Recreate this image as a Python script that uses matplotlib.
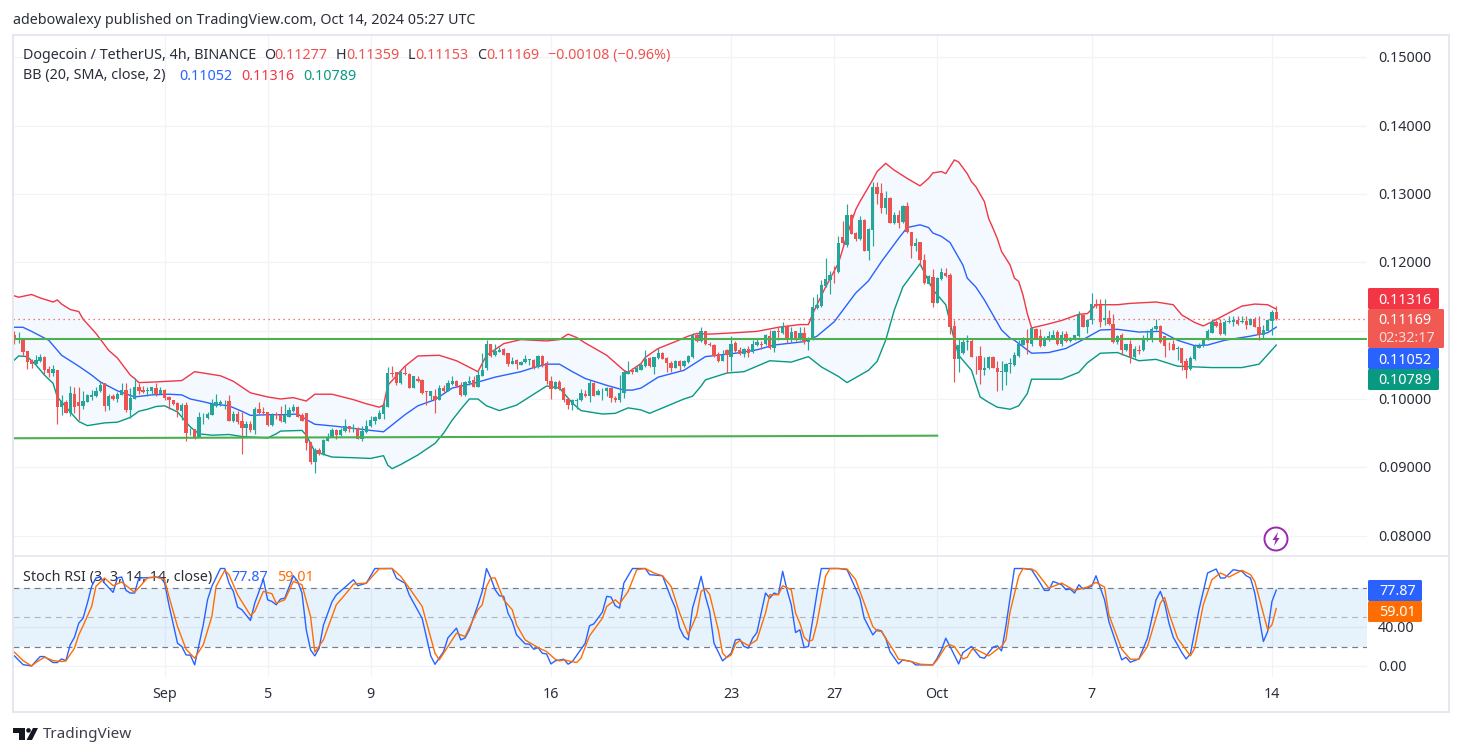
import matplotlib
matplotlib.use("Agg")
import matplotlib.pyplot as plt
from matplotlib.patches import Circle, FancyBboxPatch, Polygon, Rectangle
import numpy as np

plt.rcParams['font.family'] = ['Noto Sans', 'DejaVu Sans']

# DOGE/USDT 4h candles, prices in units of 0.0001
opens = [
    1094, 1087, 1090, 1070, 1057, 1051, 1055, 1062, 1044, 1038,
    1042, 989, 996, 979, 1007, 996, 990, 996, 1003, 1004,
    1011, 1023, 990, 1004, 1000, 1006, 1013, 984, 1000, 1018,
    1013, 1012, 1012, 1016, 1008, 1013, 1003, 998, 994, 983,
    991, 951, 956, 945, 973, 972, 977, 990, 993, 995,
    997, 968, 978, 968, 958, 963, 955, 985, 981, 981,
    962, 978, 977, 967, 974, 982, 988, 976, 979, 937,
    908, 925, 919, 939, 945, 955, 947, 953, 961, 956,
    958, 942, 951, 960, 968, 971, 978, 988, 1038, 1039,
    1023, 1038, 1037, 1016, 1030, 1028, 1011, 1004, 1005, 999,
    1016, 1012, 1022, 1026, 1020, 1006, 1023, 1028, 1018, 1034,
    1045, 1081, 1064, 1069, 1073, 1068, 1051, 1057, 1050, 1054,
    1057, 1057, 1047, 1063, 1053, 1027, 1015, 1025, 1016, 1000,
    991, 997, 998, 1008, 1004, 1024, 1006, 1011, 1011, 1016,
    1002, 999, 1009, 1036, 1042, 1040, 1043, 1048, 1060, 1047,
    1060, 1068, 1060, 1053, 1045, 1056, 1048, 1054, 1061, 1093,
    1085, 1099, 1081, 1079, 1066, 1056, 1072, 1061, 1082, 1072,
    1066, 1073, 1069, 1079, 1081, 1080, 1092, 1075, 1100, 1096,
    1107, 1089, 1099, 1088, 1097, 1083, 1089, 1133, 1136, 1165,
    1174, 1182, 1186, 1237, 1225, 1269, 1243, 1234, 1262, 1216,
    1247, 1311, 1301, 1279, 1294, 1257, 1270, 1259, 1283, 1245,
    1224, 1230, 1204, 1169, 1178, 1141, 1175, 1185, 1181, 1107,
    1059, 1067, 1084, 1085, 1062, 1063, 1042, 1045, 1061, 1046,
    1040, 1040, 1051, 1050, 1063, 1079, 1086, 1081, 1103, 1092,
    1078, 1087, 1090, 1098, 1081, 1095, 1085, 1088, 1092, 1123,
    1106, 1115, 1139, 1137, 1115, 1118, 1110, 1083, 1094, 1072,
    1081, 1062, 1072, 1071, 1089, 1086, 1102, 1107, 1092, 1081,
    1081, 1073, 1074, 1055, 1044, 1058, 1074, 1077, 1087, 1097,
    1112, 1111, 1095, 1112, 1113, 1115, 1112, 1114, 1108, 1117,
    1106, 1094, 1100, 1114, 1127.7,
]
highs = [
    1100, 1098, 1090, 1070, 1058, 1064, 1066, 1063, 1048, 1050,
    1043, 1006, 998, 1019, 1018, 1017, 1011, 1007, 1013, 1018,
    1025, 1024, 1008, 1008, 1010, 1024, 1023, 1016, 1031, 1023,
    1019, 1017, 1018, 1024, 1017, 1015, 1004, 999, 995, 994,
    996, 957, 956, 981, 979, 981, 1000, 1008, 998, 998,
    1006, 983, 983, 981, 968, 968, 989, 996, 988, 981,
    980, 981, 990, 992, 989, 993, 990, 979, 979, 937,
    928, 928, 941, 950, 958, 956, 957, 971, 961, 964,
    959, 960, 969, 975, 975, 984, 996, 1047, 1048, 1040,
    1041, 1048, 1038, 1034, 1034, 1029, 1012, 1012, 1014, 1020,
    1020, 1028, 1033, 1028, 1025, 1027, 1033, 1033, 1043, 1067,
    1086, 1081, 1081, 1076, 1075, 1068, 1061, 1058, 1055, 1064,
    1058, 1058, 1064, 1064, 1055, 1033, 1026, 1028, 1018, 1002,
    1000, 1001, 1014, 1013, 1028, 1025, 1014, 1016, 1018, 1017,
    1005, 1035, 1042, 1055, 1046, 1048, 1052, 1072, 1061, 1062,
    1074, 1069, 1061, 1056, 1057, 1057, 1057, 1064, 1097, 1096,
    1105, 1099, 1084, 1080, 1069, 1072, 1073, 1092, 1085, 1076,
    1074, 1078, 1086, 1089, 1085, 1095, 1101, 1101, 1106, 1112,
    1108, 1106, 1100, 1106, 1106, 1091, 1150, 1154, 1174, 1207,
    1188, 1194, 1239, 1261, 1286, 1271, 1245, 1268, 1263, 1250,
    1318, 1317, 1316, 1304, 1296, 1274, 1276, 1284, 1289, 1245,
    1235, 1230, 1212, 1182, 1191, 1178, 1192, 1192, 1184, 1115,
    1089, 1089, 1094, 1090, 1063, 1078, 1061, 1063, 1063, 1055,
    1055, 1052, 1060, 1069, 1087, 1091, 1103, 1106, 1104, 1103,
    1092, 1099, 1101, 1101, 1099, 1099, 1091, 1094, 1129, 1125,
    1117, 1155, 1146, 1146, 1147, 1131, 1124, 1094, 1096, 1081,
    1086, 1078, 1079, 1094, 1101, 1105, 1117, 1108, 1092, 1084,
    1086, 1077, 1074, 1060, 1063, 1081, 1082, 1089, 1102, 1117,
    1115, 1117, 1115, 1121, 1122, 1121, 1121, 1122, 1118, 1120,
    1121, 1108, 1117, 1131, 1135.9,
]
lows = [
    1081, 1082, 1063, 1044, 1045, 1051, 1054, 1036, 1032, 1033,
    963, 977, 979, 975, 979, 969, 986, 995, 998, 1003,
    1010, 983, 984, 998, 995, 1006, 981, 972, 1000, 1008,
    1009, 1005, 1007, 1005, 1007, 998, 986, 991, 974, 969,
    939, 948, 941, 944, 964, 970, 977, 988, 990, 986,
    968, 967, 964, 920, 946, 952, 949, 978, 977, 960,
    961, 971, 966, 965, 973, 981, 973, 968, 925, 905,
    891, 918, 918, 938, 944, 941, 946, 952, 952, 952,
    942, 939, 950, 959, 963, 970, 970, 988, 1032, 1020,
    1022, 1035, 1016, 1016, 1025, 1008, 991, 998, 980, 999,
    1010, 1011, 1020, 1018, 1004, 1005, 1020, 1017, 1017, 1033,
    1043, 1062, 1063, 1069, 1064, 1049, 1051, 1044, 1050, 1053,
    1050, 1044, 1046, 1047, 1022, 1000, 1014, 1013, 996, 985,
    984, 986, 997, 1003, 996, 1004, 1006, 999, 1004, 995,
    996, 995, 1002, 1036, 1037, 1039, 1042, 1047, 1047, 1037,
    1058, 1058, 1040, 1039, 1045, 1041, 1047, 1052, 1060, 1084,
    1084, 1079, 1077, 1062, 1054, 1055, 1038, 1041, 1069, 1064,
    1061, 1062, 1068, 1077, 1073, 1079, 1073, 1069, 1086, 1095,
    1082, 1084, 1085, 1086, 1081, 1071, 1086, 1132, 1135, 1164,
    1154, 1170, 1185, 1227, 1223, 1241, 1232, 1233, 1216, 1203,
    1224, 1286, 1273, 1271, 1258, 1256, 1251, 1258, 1243, 1206,
    1216, 1194, 1169, 1168, 1134, 1140, 1174, 1179, 1095, 1025,
    1040, 1066, 1071, 1061, 1036, 1022, 1035, 1044, 1045, 1012,
    1013, 1020, 1038, 1049, 1062, 1079, 1066, 1078, 1089, 1076,
    1077, 1085, 1089, 1079, 1077, 1084, 1084, 1087, 1091, 1105,
    1097, 1110, 1133, 1106, 1109, 1108, 1082, 1081, 1064, 1070,
    1053, 1060, 1066, 1070, 1085, 1084, 1101, 1082, 1061, 1071,
    1071, 1057, 1043, 1031, 1043, 1057, 1074, 1076, 1086, 1096,
    1106, 1094, 1094, 1111, 1107, 1109, 1111, 1103, 1108, 1105,
    1087, 1089, 1099, 1094, 1115.3,
]
closes = [
    1086, 1089, 1069, 1054, 1051, 1057, 1061, 1042, 1038, 1044,
    989, 997, 980, 1009, 989, 990, 997, 1006, 1006, 1012,
    1020, 990, 1004, 1000, 1007, 1013, 984, 1001, 1018, 1012,
    1010, 1013, 1017, 1008, 1013, 1002, 998, 993, 984, 991,
    950, 952, 944, 974, 974, 978, 993, 995, 995, 996,
    968, 978, 966, 958, 963, 955, 985, 980, 980, 962,
    977, 976, 968, 976, 984, 988, 974, 968, 936, 908,
    925, 919, 940, 945, 955, 947, 955, 961, 956, 957,
    942, 953, 961, 969, 973, 980, 990, 1038, 1037, 1023,
    1040, 1037, 1016, 1034, 1026, 1009, 1010, 1011, 999, 1016,
    1011, 1023, 1026, 1019, 1006, 1025, 1027, 1018, 1035, 1043,
    1081, 1063, 1070, 1072, 1065, 1051, 1055, 1051, 1054, 1058,
    1058, 1046, 1063, 1050, 1026, 1015, 1025, 1015, 999, 991,
    998, 999, 1009, 1004, 1024, 1005, 1012, 1012, 1016, 1001,
    998, 1009, 1039, 1040, 1039, 1045, 1050, 1058, 1048, 1061,
    1068, 1058, 1052, 1045, 1056, 1048, 1056, 1063, 1094, 1085,
    1099, 1080, 1079, 1063, 1055, 1065, 1064, 1081, 1070, 1066,
    1073, 1068, 1080, 1084, 1079, 1093, 1075, 1100, 1098, 1107,
    1089, 1098, 1086, 1096, 1083, 1090, 1134, 1137, 1167, 1175,
    1182, 1181, 1229, 1228, 1269, 1242, 1234, 1262, 1217, 1249,
    1311, 1300, 1279, 1294, 1258, 1270, 1258, 1283, 1244, 1224,
    1229, 1203, 1170, 1180, 1141, 1177, 1186, 1180, 1106, 1058,
    1079, 1084, 1085, 1062, 1061, 1042, 1046, 1061, 1045, 1039,
    1041, 1051, 1052, 1064, 1081, 1087, 1082, 1104, 1090, 1078,
    1088, 1092, 1093, 1081, 1094, 1085, 1090, 1094, 1123, 1106,
    1116, 1139, 1136, 1112, 1119, 1110, 1083, 1092, 1072, 1080,
    1062, 1073, 1070, 1090, 1090, 1103, 1107, 1084, 1077, 1080,
    1072, 1074, 1052, 1043, 1060, 1078, 1078, 1088, 1100, 1112,
    1107, 1095, 1113, 1114, 1115, 1110, 1114, 1108, 1117, 1106,
    1094, 1101, 1115, 1128, 1116.9,
]

# Bollinger bands as (bar, price) vertices, same price units
upper_bars = [0, 1, 4, 6, 9, 10, 11, 13, 15, 16, 19, 22, 24, 27, 28, 29, 33, 39, 42, 45, 48, 51, 55, 59, 62, 65, 68, 70, 74,
              79, 82, 85, 86, 87, 91, 92, 94, 99, 103, 108, 110, 114, 118, 124, 127, 129, 131, 133, 138, 142, 143, 146,
              147, 150, 154, 157, 159, 162, 168, 173, 178, 183, 185, 186, 189, 192, 194, 196, 197, 200, 201, 203, 205,
              208, 211, 213, 214, 216, 217, 219, 220, 222, 223, 224, 226, 227, 228, 229, 230, 232, 233, 234, 235, 236,
              237, 241, 244, 248, 250, 252, 257,
              260, 266, 270, 272, 275, 277, 279, 282, 286, 289, 292, 294]
upper_vals = [1151, 1149, 1153, 1148, 1142, 1145, 1139, 1131, 1128, 1117, 1096, 1071, 1060, 1035, 1030, 1024, 1025, 1027,
              1040, 1037, 1034, 1026, 1009, 1003, 1000, 1002, 997, 1007, 1007,
              999, 993, 988, 991, 1020, 1048, 1053, 1063, 1064, 1056, 1040, 1064, 1081, 1087, 1085, 1087, 1095, 1090,
              1082, 1064, 1042, 1039, 1052,
              1061, 1074, 1084, 1092, 1096, 1095, 1097, 1099, 1105, 1109, 1109, 1125, 1164, 1199, 1240, 1277, 1289,
              1321, 1333, 1345, 1335,
              1323, 1312, 1323, 1331, 1333, 1330, 1350, 1347, 1330, 1318, 1311, 1289, 1264, 1250, 1235, 1216, 1196,
              1177, 1172, 1152, 1125,
              1104, 1110, 1115, 1124, 1125, 1138, 1138,
              1140, 1142, 1138, 1123, 1112, 1107, 1113, 1123, 1136, 1139, 1138, 1131.6]
basis_bars = [0, 2, 4, 8, 11, 15, 18, 20, 24, 28, 32, 36, 39, 41, 44, 46, 50, 53, 55, 59, 63, 66, 68, 70,
              75, 79, 83, 86, 87, 91, 94, 98, 102, 107, 112, 118, 121, 124, 127, 130, 133, 138, 142, 144, 146,
              150, 156, 161, 168, 173, 177, 184, 187, 191, 196, 199, 202, 206, 208, 211, 213, 214, 216, 218, 221, 222,
              224, 226, 228, 230, 232, 233, 237, 241, 245, 249, 253, 257, 262, 267, 271, 275, 278, 282, 288, 292, 294]
basis_vals = [1105, 1105, 1099, 1086, 1064, 1048, 1035, 1025, 1012, 1003, 1006, 1007, 1006, 1000, 996, 993, 990, 982,
              976, 977, 977, 978, 970, 963,
              960, 957, 954, 952, 957, 977, 990, 999, 1016, 1023, 1032, 1040, 1046, 1051, 1051, 1040, 1030, 1020,
              1013, 1013, 1016,
              1032, 1042, 1062, 1067, 1072, 1079, 1084, 1092, 1113, 1155, 1173, 1201, 1235, 1251, 1255, 1251, 1243,
              1238, 1229, 1196, 1177,
              1164, 1145, 1123, 1101, 1089, 1086, 1067, 1068, 1074, 1087, 1101, 1102, 1098, 1099, 1086, 1078, 1079,
              1086, 1092, 1097, 1105.2]
lower_bars = [0, 1, 3, 5, 7, 9, 10, 13, 15, 17, 21, 24, 27, 29, 31, 33, 35, 38, 41, 43, 46, 50, 53, 59, 61, 62, 67, 68,
              70, 74, 79, 83, 86, 87, 88, 90, 94, 98, 100, 102, 104, 106, 108, 110, 113, 117, 121, 124, 127, 130, 132,
              137, 140, 143, 146, 148, 156, 158, 160, 161, 166, 170, 176, 181, 185, 188, 192, 194, 199, 201, 203,
              205, 207, 211, 214, 217, 219, 220, 223, 225, 227, 229, 232, 234, 236, 237, 241, 244, 248, 250, 253,
              257, 262, 266, 271, 279, 286, 290, 294]
lower_vals = [1057, 1063, 1062, 1050, 1035, 1023, 1003, 981, 967, 961, 965, 966, 973, 982, 985, 989, 990, 981, 959, 949,
              947, 948, 945, 943, 949, 953, 954, 947,
              923, 915, 914, 913, 917, 903, 898, 904, 918, 935, 950, 969, 985, 1000, 1000, 990, 983, 991, 1007, 1019,
              1016, 994, 983,
              978, 979, 987, 984, 979, 1000, 1004, 1019, 1028, 1038, 1040, 1056, 1054, 1062, 1047, 1033, 1024, 1042,
              1055, 1086,
              1130, 1164, 1198, 1160, 1138, 1086, 1064, 1042, 1003, 995, 988, 985, 990, 1008, 1029, 1029, 1029, 1039,
              1053, 1067,
              1068, 1056, 1058, 1048, 1046, 1046, 1051, 1078.9]

# Stochastic RSI, k and d lines as (bar, value) vertices
k_bars = [0, 2, 4, 6, 7, 9, 10, 11, 12, 13, 14, 15, 16, 17, 18, 19, 20, 21, 23, 24, 25, 26, 27, 28, 29, 34, 35, 36, 38, 39,
          40, 41, 42, 43, 44, 45, 46, 48, 49, 50, 51, 52, 53, 55, 56, 57, 58, 59, 60, 61, 62, 63, 65, 66, 67, 68, 69, 70,
          71, 72, 74, 75, 79, 80, 82, 84, 88, 89, 91, 92, 95, 97, 98, 100, 101, 103, 104, 105,
          106, 108, 109, 110, 111, 112, 113, 114, 115, 116, 117, 119, 120, 121, 122, 123, 124, 125, 126, 128, 129, 130,
          133, 134, 135, 137, 138, 139, 140, 141, 142, 144, 147, 148, 151, 153, 154, 155, 156, 157, 158, 159, 160, 161,
          162, 163, 165, 167, 168, 169, 170, 171, 172, 173, 175, 176, 177, 178, 179, 180, 181, 182, 183, 184, 185, 187,
          188, 192, 194, 197, 198, 200, 201, 202, 203, 204, 206, 207, 209, 210, 214, 215,
          216, 217, 218, 220, 221, 223, 225, 226, 228, 229, 230, 231, 233, 235, 237, 239, 240, 241, 242, 244, 245, 246,
          247, 248, 249, 251, 252, 254, 255, 258, 259, 260, 262, 264, 266, 267, 268, 269, 270, 272, 273, 274, 276, 278,
          280, 281, 282, 284, 286, 287, 288, 289, 291, 292, 293, 294]
k_vals = [10.6, 1.7, 0.3, 9.9, 9.9, 3.8, 3.8, 7.5, 5.8, 21.9, 29.7, 44.1, 49.2, 64.6, 81.7, 90.3, 91.3, 85.1, 75.6, 90.3,
          91.3, 77.6, 74.9, 74.9, 90.3, 91.3, 85.1, 62.9, 23.6, 20.2,
          11.6, 11.3, 1.4, 21.9, 42.4, 68, 81.7, 100, 100, 85.1, 76.6, 60.5, 57.8, 46.8, 64.6, 76.6, 89.2, 68, 66.3, 62.9,
          68.7, 69.7, 92.6, 86.8, 74.9, 37.3, 16.8, 10.6,
          18.5, 42, 66, 73, 88.5, 82.4, 85, 100, 100, 90, 85, 73, 49, 10.6, 2, 15, 29, 39, 27, 29,
          37.3, 62.9, 76.6, 100, 90.3, 78.3, 72.1, 71.5, 54.4, 45.8, 32.1, 22.9, 22.6, 17.4, 19.1, 13.3, 12.6, 2.4, 5.5,
          7.2, 2.1, 4.8,
          23.6, 41.4, 43.4, 55.4, 71.5, 70.8, 61.9, 59.5, 85.1, 100, 100, 93.7, 92.6, 69.7, 59.5, 39, 30.4, 27, 59.5,
          74.9, 92, 71.5,
          56, 23.6, 5.5, 13.3, 27, 27.7, 20.2, 18.5, 28.7, 34.5, 74.9, 69.7, 74.9, 73.2, 97.1, 78.3, 62.9, 34.5, 37.3,
          19.1, 20.2, 74.9,
          100, 100, 98.8, 69.7, 49.2, 32.1, 37.3, 36.2, 28.7, 15, 2.4, 6.5, 4.8, 1.4, 1.4, 8.2,
          16.8, 28.7, 20.2, 2.4, 14, 20.2, 9.2, 8.2, 19.5, 20.9, 15.7, 40.7, 100, 100, 98.8, 85.1, 77.6, 77.6, 86.8, 83.4,
          78.3, 79,
          74.9, 83.4, 79, 81.7, 92.6, 68, 45.8, 6.5, 9.2, 4.1, 7.5, 28.7, 68, 76.6, 64.6, 44.1, 29.7, 14, 7.5, 12.6, 57.8,
          95.4,
          99.5, 90.3, 90.3, 98.8, 97.1, 92.6, 90.3, 74.9, 25.3, 35.6, 66.3, 77.87]
d_bars = [0, 2, 4, 5, 7, 9, 11, 12, 14, 15, 16, 18, 19, 21, 23, 25, 28, 31, 33, 35, 36, 38, 40, 42, 44, 46, 47, 49, 50, 52,
          55, 56, 58, 60, 61, 63, 65, 67, 69, 70, 72, 75, 78, 79, 82, 85, 88, 90, 92, 95, 98, 99, 100, 103, 105,
          108, 109, 110, 111, 112, 114, 116, 117, 119, 120, 122, 124, 126, 127, 128, 131, 132, 134, 137, 138, 140, 141,
          143, 145, 147, 149, 151, 153, 155, 157, 159, 160, 161, 162, 164, 165, 166, 167, 168, 169, 171, 173, 175, 176,
          178, 179, 181, 182, 183, 184, 185, 186, 187, 189, 190, 192, 194, 196, 198, 200, 201, 202, 203, 205, 206, 209,
          211, 214, 215, 217, 218, 219, 221, 222, 223, 224, 227, 229, 230, 231, 232, 234, 235, 237, 238, 241, 244, 247,
          250, 252, 254, 255, 258, 260, 262, 264, 267, 268, 269, 271, 274, 275, 277, 279, 281, 283, 286, 288, 289, 292,
          293, 294]
d_vals = [14.4, 5.8, 0.3, 3.8, 9.2, 5.8, 4.8, 5.5, 18.5, 32.1, 41.4, 61.2, 81.7, 90.3, 82.4, 86.2, 75.6, 90.3, 91.3, 88.5,
          71.5, 40.7, 17.4, 8.2, 21.9, 50.9, 81.7, 98.1, 93.7, 73.2,
          52, 56, 76.6, 74.2, 64.6, 68, 86.8, 83.4, 50.9, 14.4, 27, 62.9, 78.3, 84.1, 85.1, 99.8, 100, 92, 80, 61.2, 13.3,
          6.5, 13.3, 33.8, 30.4,
          57.8, 62.9, 81.7, 90.3, 90.3, 68, 57.8, 42.4, 27, 24.3, 19.1, 15, 7.2, 5.5, 6.5, 3.8, 8.2, 31.1, 49.2, 61.2, 68,
          63.9,
          76.6, 98.8, 100, 95.4, 92.6, 81.7, 54.4, 32.1, 52.6, 76.6, 79.3, 73.2, 37.3, 13.3, 8.9, 11.6, 22.6, 26.3, 21.2,
          27, 54.4, 73.2,
          73.2, 82.4, 78.3, 54.4, 44.1, 29.7, 25.3, 27, 44.1, 92, 100, 100, 99.5, 88.5, 64.6, 40.7, 36.2, 35.6, 28.7, 15,
          7.2, 4.8,
          2.1, 1.4, 6.5, 20.2, 21.9, 20.2, 7.5, 9.2, 16.8, 17.4, 10.6, 17.4, 20.2, 27, 56, 92, 100, 99.5, 97.1, 80, 85.1,
          77.6,
          81, 85.8, 81, 52.6, 17.4, 7.2, 7.2, 20.2, 64.6, 70.4, 54.4, 28.7, 10.6, 18.5, 62.9, 88.5, 95.4, 91.3, 98.1, 93.7,
          86.8, 37.3,
          42.4, 59.01]

# trend lines and last values
support_bars = [-1, 215]
support_vals = [942.5, 946.3]
resistance_price = 1087.8
last_close = 1116.9

price_ticks = [0.08, 0.09, 0.10, 0.11, 0.12, 0.13, 0.14, 0.15]
price_tick_labels = ['0.08000', '0.09000', '0.10000', '', '0.12000', '0.13000', '0.14000', '0.15000']
time_bars = [35, 59, 83, 125, 167, 191, 215, 251, 293]
time_labels = ['Sep', '5', '9', '16', '23', '27', 'Oct', '7', '14']
time_bold = ['Sep', 'Oct']

GREEN = '#26a69a'
RED = '#ef5350'
BLUE = '#2962ff'
TEAL = '#089981'
ORANGE = '#ff6d00'
GRID = '#f0f3fa'
BORDER = '#e6e8f0'
TEXT = '#2a2e39'
W, H = 1462, 756
BAR_W = 4.292


def pane(x0, y0, x1, y1):
    # axes placed by pixel box, y counted from the top of the figure
    return fig.add_axes([x0 / W, 1 - y1 / H, (x1 - x0) / W, (y1 - y0) / H])


fig = plt.figure(figsize=(W / 100, H / 100), dpi=100, facecolor='white')

ax = pane(13, 35, 1367, 555)
rsi = pane(13, 556, 1367, 677)
xlim = ((13 - 14.4) / BAR_W, (1367 - 14.4) / BAR_W)

for a in (ax, rsi):
    a.set_xlim(*xlim)
    a.set_xticks([])
    a.set_yticks([])
    for s in a.spines.values():
        s.set_visible(False)
    for b in time_bars:
        a.axvline(b, color=GRID, lw=0.9, zorder=0)

# main pane
ax.set_ylim(0.07716, 0.15329)
for p in price_ticks:
    ax.axhline(p, color=GRID, lw=0.9, zorder=0)

o = np.array(opens) / 1e4
h = np.array(highs) / 1e4
l = np.array(lows) / 1e4
c = np.array(closes) / 1e4
bars = np.arange(len(o))
cols = [GREEN if cc >= oo else RED for oo, cc in zip(o, c)]

ub = np.array(upper_bars)
uv = np.array(upper_vals) / 1e4
mb = np.array(basis_bars)
mv = np.array(basis_vals) / 1e4
lb = np.array(lower_bars)
lv = np.array(lower_vals) / 1e4

ax.fill(np.r_[ub, lb[::-1]], np.r_[uv, lv[::-1]], color='#f3f9fe', lw=0, zorder=1)
ax.axhline(last_close / 1e4, color=RED, lw=0.9, ls=(0, (1, 3)), zorder=2)
ax.plot(ub, uv, color='#f23645', lw=1.0, zorder=3)
ax.plot(mb, mv, color=BLUE, lw=1.0, zorder=3)
ax.plot(lb, lv, color=TEAL, lw=1.0, zorder=3)

ax.vlines(bars, l, h, colors=cols, lw=0.85, zorder=4)
ax.bar(bars, np.maximum(np.abs(c - o), 0.00006), bottom=np.minimum(o, c), width=0.78, color=cols, lw=0, zorder=5)

ax.axhline(resistance_price / 1e4, color='#4caf50', lw=1.5, zorder=6)
ax.plot(support_bars, np.array(support_vals) / 1e4, color='#4caf50', lw=1.5, zorder=6)

# stochastic RSI pane
rsi.set_ylim(-11.0, 112.8)
rsi.axhline(0, color=GRID, lw=0.9, zorder=0)
rsi.axhline(40, color='#dde6ee', lw=0.9, zorder=2)
rsi.axhspan(20, 80, color='#2196f3', alpha=0.11, lw=0, zorder=1)
rsi.axhline(80, color='#787b86', lw=0.85, ls=(0, (5, 4)), zorder=2)
rsi.axhline(20, color='#787b86', lw=0.85, ls=(0, (5, 4)), zorder=2)
rsi.axhline(50, color='#b2b5be', lw=0.85, ls=(0, (5, 4)), zorder=2)
rsi.plot(k_bars, k_vals, color=BLUE, lw=1.0, zorder=3)
rsi.plot(d_bars, d_vals, color=ORANGE, lw=1.0, zorder=4)

# frame, labels and scale boxes share one overlay in pixel coordinates
ov = fig.add_axes([0, 0, 1, 1], zorder=10)
ov.set_xlim(0, W)
ov.set_ylim(H, 0)
ov.axis('off')
ov.patch.set_alpha(0)

ov.add_patch(Rectangle((13, 34.5), 1436, 677, fill=False, ec=BORDER, lw=1.5))
ov.plot([13, 1449], [555.5, 555.5], color=BORDER, lw=1.2)


def label(x, y, s, color=TEXT, size=10.3, target=None, **kw):
    kw.setdefault('ha', 'left')
    (target or ov).text(x, y + 1.5, s, color=color, fontsize=size, va='center', transform=ov.transData, **kw)


label(13, 19, 'adebowalexy published on TradingView.com, Oct 14, 2024 05:27 UTC')

label(23, 54, 'Dogecoin / TetherUS, 4h, BINANCE')
label(264, 54, 'O')
label(274.5, 54, '0.11277', RED)
label(336, 54, 'H')
label(346, 54, '0.11359', RED)
label(408, 54, 'L')
label(415, 54, '0.11153', RED)
label(477, 54, 'C')
label(486, 54, '0.11169', RED)
label(548, 54, '\u22120.00108 (\u22120.96%)', RED)
label(23, 74.5, 'BB (20, SMA, close, 2)')
label(179, 74.5, '0.11052', BLUE)
label(241, 74.5, '0.11316', '#f23645')
label(303, 74.5, '0.10789', TEAL)

# the RSI caption sits under the RSI lines
label(23, 576, 'Stoch RSI (3, 3, 14, 14, close)', target=rsi, zorder=2)
label(231, 576, '77.87', BLUE, target=rsi, zorder=2)
label(277, 576, '59.01', ORANGE, target=rsi, zorder=2)

# price scale
for p, s in zip(price_ticks, price_tick_labels):
    y = ax.transData.transform((0, p))[1]
    label(1378, H - y, s)
label(1378, 627.5, '40.00')
label(1378, 666.3, '0.00')


def tag(y0, y1, x1, color):
    ov.add_patch(FancyBboxPatch((1368, y0), x1 - 1368, y1 - y0, boxstyle='round,pad=0,rounding_size=1.5',
                                fc=color, ec='none', mutation_aspect=1))


tag(288, 309, 1439, '#f23645')
tag(348, 369, 1439, BLUE)
tag(369, 390, 1439, TEAL)
tag(309, 348, 1444, '#f05a52')
label(1378, 298.5, '0.11316', 'white')
label(1378, 318.5, '0.11169', 'white')
label(1378, 336.5, '02:32:17', '#fbdad8')
label(1378, 358.5, '0.11052', 'white')
label(1378, 379.5, '0.10789', 'white')

tag(580, 601, 1422, BLUE)
tag(601, 622, 1422, ORANGE)
label(1379, 590, '77.87', 'white')
label(1379, 611, '59.01', 'white')

# time scale
for b, s in zip(time_bars, time_labels):
    x = 14.4 + b * BAR_W
    label(x, 693.5, s, ha='center', fontweight='bold' if s in time_bold else 'normal')

# lightning badge
ov.add_patch(Circle((1276, 539), 11.5, fc='white', ec='#9c27b0', lw=1.4))
ov.add_patch(Polygon([(1278, 532), (1272.5, 540), (1275.5, 540), (1274, 546), (1279.5, 538), (1276.5, 538)],
                     closed=True, fc='#9c27b0', ec='none'))

# footer logo
ov.add_patch(Polygon([(13, 728), (25, 728), (25, 740), (19, 740), (19, 732.5), (13, 732.5)], closed=True,
                     fc='#131722', ec='none'))
ov.add_patch(Circle((28.5, 730.4), 2.3, fc='#131722', ec='none'))
ov.add_patch(Polygon([(33, 728), (38, 728), (32, 740), (26.5, 740)], closed=True, fc='#131722', ec='none'))
label(43, 733, 'TradingView', '#3c4049', size=11)

fig.savefig('out.png', dpi=100, facecolor='white')
